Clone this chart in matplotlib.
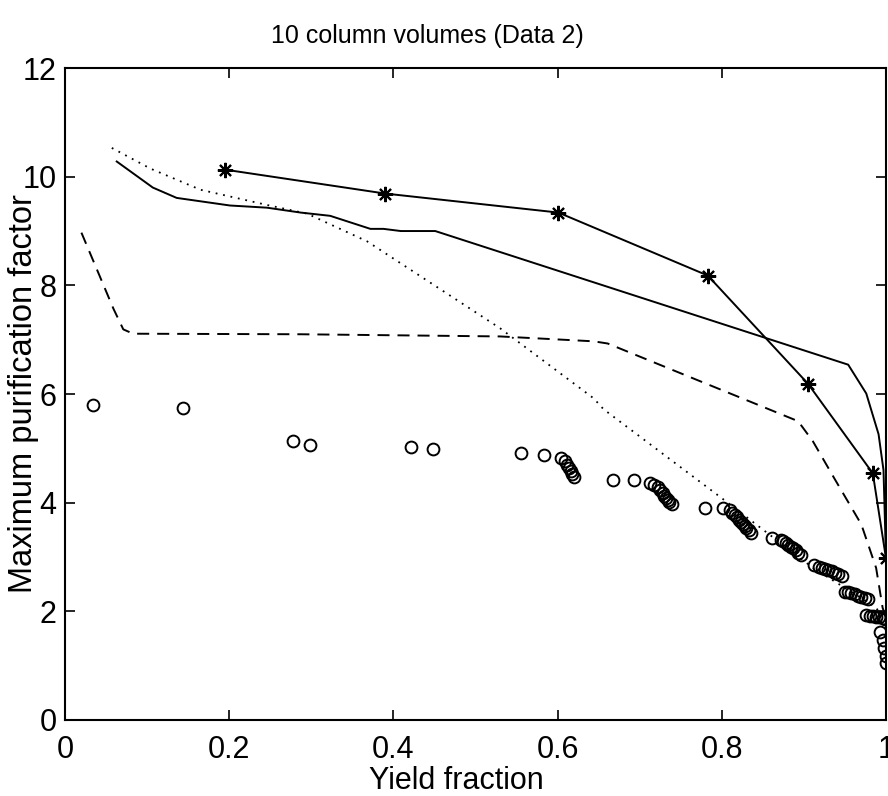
import numpy as np
import matplotlib
matplotlib.use("Agg")
import matplotlib.pyplot as plt

plt.rcParams['font.family'] = ['Liberation Sans', 'DejaVu Sans']

# solid line with asterisks
star_x = [0.195, 0.390, 0.601, 0.783, 0.905, 0.984, 1.000]
star_y = [10.13, 9.69, 9.34, 8.18, 6.19, 4.54, 2.98]

# plain solid line
solid_x = [0.063, 0.107, 0.136, 0.201, 0.246, 0.287, 0.323, 0.372, 0.388, 0.409,
           0.451, 0.954, 0.976, 0.991, 0.997, 1.000]
solid_y = [10.28, 9.80, 9.61, 9.47, 9.43, 9.34, 9.28, 9.04, 9.04, 9.00,
           9.00, 6.54, 6.01, 5.26, 4.60, 3.00]

# dotted line
dot_x = [0.057, 0.104, 0.165, 0.246, 0.295, 0.368, 0.449, 0.530, 0.644, 0.656,
         0.802, 0.912, 0.982, 1.000]
dot_y = [10.53, 10.15, 9.76, 9.48, 9.32, 8.81, 8.01, 7.21, 5.92, 5.72,
         4.06, 2.79, 2.13, 1.90]

# dashed line
dash_x = [0.020, 0.059, 0.071, 0.083, 0.287, 0.530, 0.644, 0.661, 0.893, 0.911,
          0.937, 0.970, 0.988, 0.996, 1.000]
dash_y = [8.97, 7.57, 7.19, 7.11, 7.10, 7.06, 6.97, 6.93, 5.50, 5.13,
          4.45, 3.60, 2.80, 2.06, 1.90]

# open circles
circ_x = [0.034, 0.144, 0.278, 0.298, 0.422, 0.448, 0.556, 0.583,
          0.604, 0.609, 0.612, 0.614, 0.616, 0.618, 0.620,
          0.667, 0.693,
          0.712, 0.718, 0.722, 0.725, 0.728, 0.730, 0.732, 0.734, 0.736, 0.739,
          0.780, 0.801,
          0.810, 0.813, 0.816, 0.818, 0.821, 0.823, 0.826, 0.828, 0.830, 0.833, 0.836,
          0.861,
          0.872, 0.875, 0.878, 0.881, 0.884, 0.887, 0.890, 0.893, 0.896,
          0.912,
          0.918, 0.922, 0.926, 0.930, 0.934, 0.938, 0.942, 0.946,
          0.950, 0.954, 0.958, 0.962, 0.966, 0.970, 0.974, 0.978,
          0.976, 0.980, 0.984, 0.988, 0.992, 0.996, 0.999,
          0.993, 0.996, 0.998, 1.000, 1.000]
circ_y = [5.79, 5.75, 5.13, 5.07, 5.02, 4.98, 4.91, 4.87,
          4.82, 4.76, 4.70, 4.64, 4.58, 4.52, 4.47,
          4.41, 4.41,
          4.37, 4.33, 4.28, 4.23, 4.18, 4.13, 4.09, 4.05, 4.01, 3.97,
          3.90, 3.90,
          3.86, 3.81, 3.77, 3.73, 3.69, 3.65, 3.61, 3.57, 3.53, 3.49, 3.45,
          3.35,
          3.32, 3.29, 3.26, 3.22, 3.19, 3.16, 3.12, 3.08, 3.04,
          2.85,
          2.82, 2.80, 2.78, 2.76, 2.74, 2.71, 2.68, 2.65,
          2.36, 2.35, 2.33, 2.31, 2.29, 2.27, 2.25, 2.22,
          1.93, 1.92, 1.91, 1.90, 1.89, 1.88, 1.86,
          1.62, 1.48, 1.33, 1.18, 1.05]

fig = plt.figure(figsize=(8.88, 7.96), dpi=100)
ax = fig.add_axes([0.0732, 0.0955, 0.9245, 0.819])

ax.plot(star_x, star_y, color='black', lw=1.4, marker=(8, 2, 0), ms=11, mew=1.5)
ax.plot(solid_x, solid_y, color='black', lw=1.4)
ax.plot(dot_x, dot_y, color='black', lw=1.3, dashes=(1, 3.2))
ax.plot(dash_x, dash_y, color='black', lw=1.4, dashes=(6.2, 4.1))
ax.plot(circ_x, circ_y, ls='none', marker='o', ms=8.5, mfc='none', mec='black', mew=1.4)

ax.set_xlim(0, 1)
ax.set_ylim(0, 12)
ax.set_xticks([0, 0.2, 0.4, 0.6, 0.8, 1])
ax.set_xticklabels(['0', '0.2', '0.4', '0.6', '0.8', '1'])
ax.set_yticks([0, 2, 4, 6, 8, 10, 12])
ax.tick_params(direction='in', length=7, width=1.2, labelsize=22, top=True, right=True)
ax.tick_params(axis='x', pad=11)
ax.tick_params(axis='y', pad=6)
for s in ax.spines.values():
    s.set_linewidth(1.5)

ax.set_xlabel('Yield fraction', fontsize=22, va='center')
ax.xaxis.set_label_coords(0.477, -0.093)
ax.set_ylabel('Maximum purification factor', fontsize=23.5, va='center')
ax.yaxis.set_label_coords(-0.05, 0.5)
fig.text(0.481, 0.955, '10 column volumes (Data 2)', fontsize=18, ha='center', va='center')

fig.savefig('out.png', dpi=100)
